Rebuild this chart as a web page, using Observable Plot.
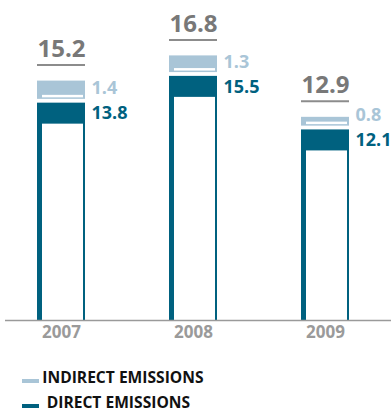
<!DOCTYPE html>
<html>
<head>
<meta charset="utf-8">
<script src="https://cdn.jsdelivr.net/npm/d3@7"></script>
<script src="https://cdn.jsdelivr.net/npm/@observablehq/plot@0.6"></script>
<style>
  body { margin: 0; background: #fff; font-family: "Open Sans", sans-serif; overflow: hidden; }
  #chart { position: absolute; left: 0; top: 0; }
  .legend-item { position: absolute; left: 0; width: 391px; height: 15px; }
  .legend-item .swatch { position: absolute; left: 22px; width: 16.5px; height: 4px; top: 9.5px; }
  .legend-item .label { position: absolute; white-space: nowrap; font-size: 15.6px; line-height: 15px; font-weight: 700; color: #111; top: 0; }
</style>
</head>
<body>
<div id="chart"></div>
<div class="legend-item" style="top:369.5px">
  <span class="swatch" style="background:#a9c5d7"></span>
  <span class="label" style="left:42.3px">INDIRECT EMISSIONS</span>
</div>
<div class="legend-item" style="top:394.5px">
  <span class="swatch" style="background:#00617f"></span>
  <span class="label" style="left:46.7px">DIRECT EMISSIONS</span>
</div>
<script>
// Emissions by year (direct + indirect = total)
const years = ["2007", "2008", "2009"];
const direct = [13.8, 15.5, 12.1];
const indirect = [1.4, 1.3, 0.8];
const totals = [15.2, 16.8, 12.9];

const data = years.map((year, i) => ({
  year,
  direct: direct[i],
  indirect: indirect[i],
  total: totals[i]
}));

const dark = "#00617f";
const light = "#a9c5d7";
const gray = "#787878";

const gap = 3.8;   // white space between the two stacked boxes
const band = 21;   // thickness of the solid cap on the direct box

const chart = Plot.plot({
  width: 391,
  height: 352,
  marginTop: 5,
  marginBottom: 32,
  marginLeft: 0,
  marginRight: 4.5,
  style: { fontFamily: "'Open Sans', sans-serif", background: "#fff" },
  x: { domain: years, paddingInner: 0.633, paddingOuter: 0.278, axis: null },
  y: { domain: [0, 20], axis: null },
  marks: [
    // direct emissions: solid box, then hollowed out below the cap
    Plot.barY(data, { x: "year", y1: 0, y2: "direct", fill: dark }),
    Plot.barY(data, { x: "year", y1: 0, y2: "direct", fill: "#fff", insetLeft: 5, insetRight: 2, insetTop: band }),
    // indirect emissions stacked on top, with a small notch at its base
    Plot.barY(data, { x: "year", y1: "direct", y2: d => d.direct + d.indirect, fill: light, insetBottom: gap }),
    Plot.barY(data, { x: "year", y1: "direct", y2: "direct", fill: "#fff", insetLeft: 5, insetRight: 2, insetTop: -(gap + 1.5 + 2.5), insetBottom: gap + 1.5 }),
    // baseline
    Plot.ruleY([0], { stroke: "#9a9a9a", strokeWidth: 1.7, insetLeft: 5, insetRight: -4.5 }),
    // totals with underline
    Plot.text(data, { x: "year", y: "total", text: d => d.total.toFixed(1), dy: -32, fontSize: 24, fontWeight: "bold", fill: gray }),
    Plot.tickY(data, { x: "year", y: "total", dy: -16, stroke: "#8c8c8c", strokeWidth: 2 }),
    // segment values
    Plot.text(data, { x: "year", y: "direct", text: d => d.direct.toFixed(1), dy: band / 2, dx: 30, textAnchor: "start", fontSize: 18, fontWeight: "bold", fill: dark }),
    Plot.text(data, { x: "year", y: "direct", text: d => d.indirect.toFixed(1), dy: -14.5, dx: 30, textAnchor: "start", fontSize: 18, fontWeight: "bold", fill: light }),
    // year labels
    Plot.text(data, { x: "year", frameAnchor: "bottom", dy: 17, text: "year", fontSize: 17, fontWeight: "bold", fill: "#9a9a9a" })
  ]
});

document.getElementById("chart").append(chart);
</script>
</body>
</html>
